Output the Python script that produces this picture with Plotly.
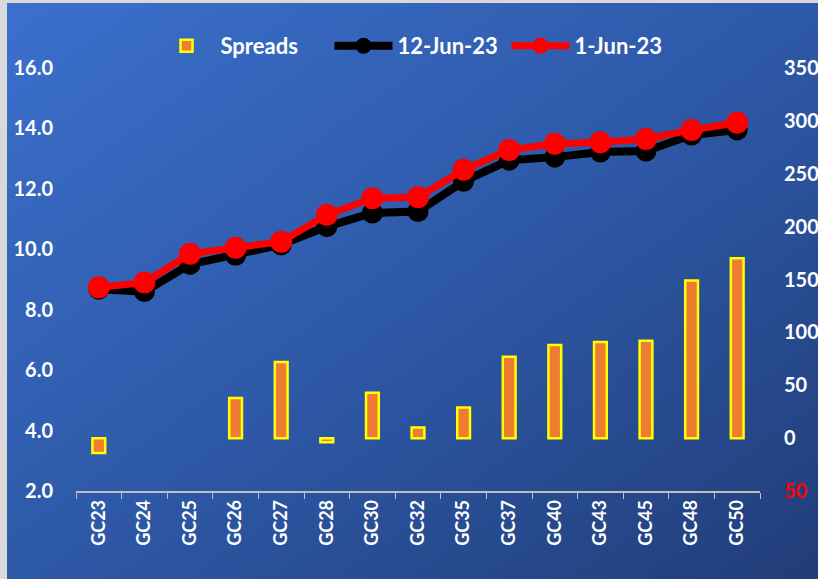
import base64
import plotly.graph_objects as go

categories = ["GC23", "GC24", "GC25", "GC26", "GC27", "GC28", "GC30", "GC32",
              "GC35", "GC37", "GC40", "GC43", "GC45", "GC48", "GC50"]
spreads = [-14, None, None, 38, 72, -4, 43, 10, 29, 77, 88, 91, 92, 149, 170]
jun12 = [8.68, 8.6, 9.5, 9.8, 10.15, 10.75, 11.2, 11.25, 12.25, 12.95,
         13.05, 13.22, 13.25, 13.78, 13.95]
jun1 = [8.74, 8.9, 9.85, 10.05, 10.25, 11.14, 11.69, 11.72, 12.63, 13.29,
        13.49, 13.54, 13.65, 13.95, 14.19]
left_ticks = [2, 4, 6, 8, 10, 12, 14, 16]
right_ticks = [-50, 0, 50, 100, 150, 200, 250, 300, 350]
right_ticktext = ['<span style="color:#FF0000">50</span>', "0", "50", "100",
                  "150", "200", "250", "300", "350"]

FONT = "Lato"

svg = ('<svg xmlns="http://www.w3.org/2000/svg" width="811" height="576" '
       'preserveAspectRatio="none">'
       '<defs><linearGradient id="g" x1="0" y1="0" x2="1" y2="1">'
       '<stop offset="0" stop-color="#3B70CC"/>'
       '<stop offset="0.5" stop-color="#2E59A8"/>'
       '<stop offset="1" stop-color="#213D78"/>'
       '</linearGradient></defs>'
       '<rect width="811" height="576" fill="url(#g)"/></svg>')
bg_src = "data:image/svg+xml;base64," + base64.b64encode(svg.encode()).decode()

fig = go.Figure()
fig.add_trace(go.Bar(
    x=categories, y=spreads, name="Spreads", yaxis="y2",
    width=0.28,
    marker=dict(color="#ED7D31", line=dict(color="#FFFF00", width=2.5)),
))
fig.add_trace(go.Scatter(
    x=categories, y=jun12, name="12-Jun-23", mode="lines+markers",
    line=dict(color="#000000", width=8),
    marker=dict(color="#000000", size=21),
))
fig.add_trace(go.Scatter(
    x=categories, y=jun1, name="1-Jun-23", mode="lines+markers",
    line=dict(color="#FF0000", width=7),
    marker=dict(color="#FF0000", size=22),
))

W, H = 818, 579
L, R, T, B = 76, 58, 68, 88
pw, ph = W - L - R, H - T - B
x0 = (7 - L) / pw
y0 = (H - B - 3) / ph

fig.update_layout(
    width=W, height=H,
    margin=dict(l=L, r=R, t=T, b=B, autoexpand=False),
    paper_bgcolor="#D9D9D9",
    plot_bgcolor="rgba(0,0,0,0)",
    font=dict(family=FONT, color="white", size=18),
    showlegend=True,
    legend=dict(orientation="h", x=0.5, xanchor="center", y=1 + 22 / ph,
                yanchor="middle", itemwidth=58, entrywidth=104,
                entrywidthmode="pixels",
                font=dict(size=22, color="white", family=FONT, weight="bold"),
                bgcolor="rgba(0,0,0,0)", traceorder="normal"),
    bargap=0.7,
    images=[dict(source=bg_src, xref="paper", yref="paper", x=x0, y=y0,
                 sizex=(W - 7) / pw, sizey=(H - 3) / ph, sizing="stretch",
                 xanchor="left", yanchor="top", layer="below")],
    xaxis=dict(
        type="category", showgrid=False, showline=True, linecolor="#BFBFBF",
        linewidth=1.5, ticks="outside", tickson="boundaries", ticklen=6,
        tickcolor="#BFBFBF", tickangle=-90, automargin=False,
        tickfont=dict(size=18, color="white", family=FONT, weight="bold"),
        range=[-0.5, len(categories) - 0.5],
    ),
    yaxis=dict(
        range=[2, 16], tickvals=left_ticks, tickformat=".1f", showgrid=False,
        zeroline=False, showline=False, ticks="", ticklabelstandoff=22,
        automargin=False,
        tickfont=dict(size=20, color="white", family=FONT, weight="bold"),
    ),
    yaxis2=dict(
        range=[-50, 350], overlaying="y", side="right", tickvals=right_ticks,
        ticktext=right_ticktext, showgrid=False, zeroline=False,
        showline=False, ticks="", ticklabelstandoff=23, automargin=False,
        tickfont=dict(size=20, color="white", family=FONT, weight="bold"),
    ),
)

fig.write_html("out.html", config={"displayModeBar": False},
               post_script="document.body.style.margin='0';"
                           "document.body.style.overflow='hidden';")
